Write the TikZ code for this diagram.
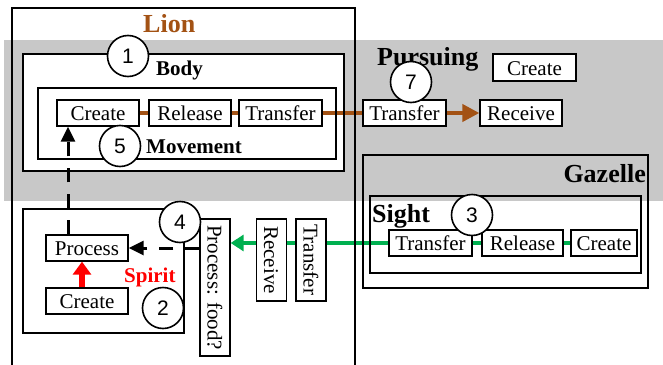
\documentclass[tikz,border=0pt]{standalone}
\usepackage{fontspec}
\setmainfont{Liberation Serif}
\newfontfamily\numfont{Liberation Sans}
\usetikzlibrary{arrows.meta}
\definecolor{lionbrown}{RGB}{163,82,20}
\definecolor{seegreen}{RGB}{0,176,80}
\definecolor{spiritred}{RGB}{255,0,0}
\definecolor{bandgray}{RGB}{200,200,200}
\pgfdeclarelayer{bg}
\pgfdeclarelayer{lines}
\pgfdeclarelayer{frames}
\pgfsetlayers{bg,lines,frames,main}
\tikzset{
  box/.style={draw, fill=white, line width=1.3pt, inner sep=0pt,
    minimum width=82pt, minimum height=26pt,
    font=\fontsize{21}{21}\selectfont, text height=16.5pt, text depth=1.5pt},
  vbox/.style={box, rotate=-90, minimum height=30pt},
  numc/.style={draw, circle, fill=white, line width=1.6pt, inner sep=0pt,
    minimum size=41pt, font=\numfont\fontsize{21}{21}\selectfont},
  biglabel/.style={font=\bfseries\fontsize{26}{26}\selectfont, inner sep=0pt},
  midlabel/.style={font=\bfseries\fontsize{21}{21}\selectfont, inner sep=0pt},
  frame/.style={draw, line width=1.5pt},
  brownline/.style={draw=lionbrown, line width=4pt},
  greenline/.style={draw=seegreen, line width=4.5pt},
  dashedarrow/.style={draw, line width=3pt, dash pattern=on 14pt off 12pt,
    -{Triangle[length=15pt,width=14pt]}},
}
\begin{document}
\begin{tikzpicture}[x=1pt,y=-1pt]
\useasboundingbox (0,0) rectangle (663,364);

% background band and frame fills
\begin{pgfonlayer}{bg}
  \fill[bandgray] (4,40) rectangle (663,201);
  \fill[white] (23,54) rectangle (344,171);
  \fill[white] (370,201) rectangle (641,273);
  \fill[white] (23,209) rectangle (184,333);
\end{pgfonlayer}

% frames
\begin{pgfonlayer}{frames}
  \draw[frame] (12,370) -- (12,8) -- (355,8) -- (355,370);
  \draw[frame] (23,54) rectangle (344,171);
  \draw[frame] (38,88) rectangle (336,159);
  \draw[frame] (363,155) rectangle (648,288);
  \draw[frame] (370,196) rectangle (641,273);
  \draw[frame] (23,209) rectangle (184,333);
\end{pgfonlayer}

% frame labels
\node[biglabel, text=lionbrown, anchor=base west] (lion) at (143,32) {Lion};
\node[midlabel, anchor=base west] (body) at (156,75) {Body};
\node[midlabel, anchor=base west] (movement) at (146,153) {Movement};
\node[biglabel, anchor=base west] (pursuing) at (377,65) {Pursuing};
\node[biglabel, anchor=base east] (gazelle) at (646,182) {Gazelle};
\node[biglabel, anchor=base west] (sight) at (372,222) {Sight};
\node[midlabel, text=spiritred, anchor=base west] (spirit) at (124,282) {Spirit};

% boxes
\node[box] (mcreate) at (98,113) {Create};
\node[box] (mrelease) at (190,113) {Release};
\node[box, minimum width=83pt] (mtransfer) at (280.5,113) {Transfer};
\node[box, minimum width=83pt] (ptransfer) at (404.5,113) {Transfer};
\node[box] (preceive) at (521,113) {Receive};
\node[box, minimum width=83pt, minimum height=27pt] (pcreate) at (534.5,67.5) {Create};
\node[box, minimum width=83pt] (stransfer) at (430.5,243) {Transfer};
\node[box, minimum width=81pt] (srelease) at (522.5,243) {Release};
\node[box, minimum width=66pt] (screate) at (604,243) {Create};
\node[box] (process) at (87,248) {Process};
\node[box] (spcreate) at (87,301) {Create};
\node[vbox, minimum width=137pt] (food) at (215,287.5) {Process: food?};
\node[vbox] (vreceive) at (271.5,260) {Receive};
\node[vbox] (vtransfer) at (311,260) {Transfer};

% circled numbers
\node[numc] (c1) at (128,56) {1};
\node[numc] (c5) at (120,146) {5};
\node[numc] (c7) at (411,82) {7};
\node[numc] (c3) at (472,215) {3};
\node[numc] (c4) at (180,222) {4};
\node[numc] (c2) at (163,308) {2};

\coordinate (vx) at (68,0);
\coordinate (rx) at (82,0);

% connectors
\begin{pgfonlayer}{lines}
  \draw[brownline] (mcreate.east) -- (ptransfer.west);
  \draw[brownline, -{Triangle[length=17pt,width=17pt]}] (ptransfer.east) -- (preceive.west);
  \draw[greenline, -{Triangle[length=13pt,width=16pt]}] (screate.west) -- (food.north |- screate.west);
\end{pgfonlayer}
\draw[dashedarrow] (food.south |- process.east) -- (process.east);
\draw[dashedarrow] (process.north -| vx) -- (mcreate.south -| vx);
\draw[spiritred, line width=6pt, -{Triangle[length=13pt,width=18pt]}] (spcreate.north -| rx) -- (process.south -| rx);
\end{tikzpicture}
\end{document}
